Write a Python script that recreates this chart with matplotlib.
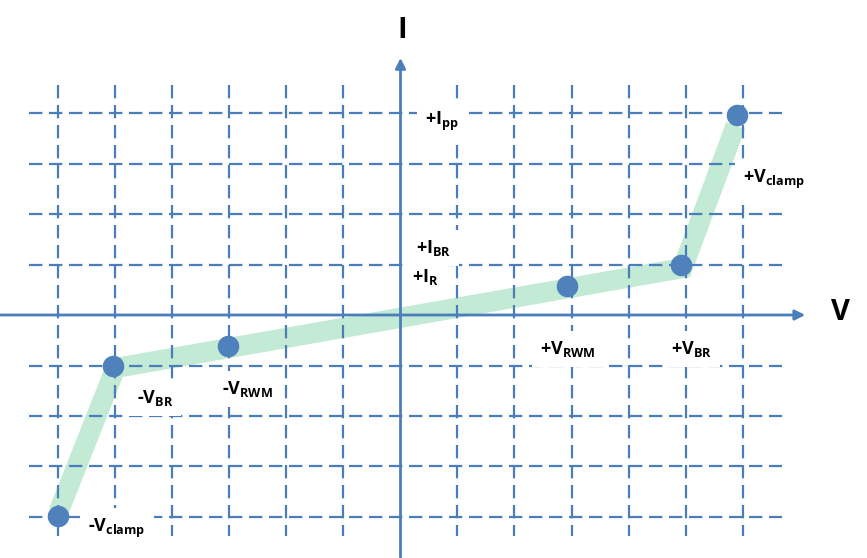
import matplotlib.pyplot as plt

plt.rcParams['font.family'] = ['Open Sans', 'DejaVu Sans']
plt.rcParams['mathtext.fontset'] = 'custom'
plt.rcParams['mathtext.rm'] = 'Open Sans'
plt.rcParams['mathtext.bf'] = 'Open Sans:bold'

# grid positions (in grid units)
grid_v = [-6, -5, -4, -3, -2, -1, 1, 2, 3, 4, 5, 6]
grid_i = [-4, -3, -2, -1, 1, 2, 3, 4]

# I-V curve (thick green band)
curve_v = [-6.0, -5.0, 4.95, 5.88]
curve_i = [-3.9, -1.05, 0.93, 3.75]

# marked points
point_v = [-6.0, -5.04, -3.03, 2.92, 4.92, 5.9]
point_i = [-3.98, -1.01, -0.61, 0.57, 0.99, 3.96]

# annotations
label_text = [r'+I$_\mathbf{pp}$', r'+V$_\mathbf{clamp}$', r'+I$_\mathbf{BR}$', r'+I$_\mathbf{R}$',
              r'+V$_\mathbf{RWM}$', r'+V$_\mathbf{BR}$', r'-V$_\mathbf{BR}$', r'-V$_\mathbf{RWM}$',
              r'-V$_\mathbf{clamp}$']
label_v = [0.72, 6.55, 0.58, 0.44, 2.94, 5.11, -4.31, -2.69, -4.97]
label_i = [3.84, 2.69, 1.33, 0.75, -0.67, -0.67, -1.64, -1.47, -4.22]

blue = '#4a7ebb'
green = '#c3ead4'
dot = '#4f81bd'

fig = plt.figure(figsize=(8.67, 5.58), dpi=100)
ax = fig.add_axes([0, 0, 1, 1])
ax.set_xlim(-7.026, 8.184)
ax.set_ylim(-4.812, 6.238)
ax.axis('off')

# green band
ax.plot(curve_v, curve_i, color=green, lw=14.5, solid_capstyle='butt',
        solid_joinstyle='miter', zorder=1)

# dashed grid
for x in grid_v:
    ax.plot([x, x], [4.55, -4.38], color=blue, lw=1.6, dashes=(6, 3), zorder=2)
for y in grid_i:
    ax.plot([-6.52, 6.69], [y, y], color=blue, lw=1.6, dashes=(6, 3), zorder=2)

# axes with arrows
ax.annotate('', xy=(7.1, 0), xytext=(-7.03, 0),
            arrowprops=dict(arrowstyle='-|>,head_length=0.6,head_width=0.3', color=blue,
                            lw=2, shrinkA=0, shrinkB=0), zorder=6)
ax.annotate('', xy=(0, 5.09), xytext=(0, -4.8),
            arrowprops=dict(arrowstyle='-|>,head_length=0.6,head_width=0.3', color=blue,
                            lw=2, shrinkA=0, shrinkB=0), zorder=6)

ax.text(0.03, 5.64, 'I', fontsize=21, fontweight='bold', ha='center', va='center')
ax.text(7.71, 0.04, 'V', fontsize=21, fontweight='bold', ha='center', va='center')

# points
ax.plot(point_v, point_i, 'o', color=dot, ms=14.5, zorder=7)

for t, x, y in zip(label_text, label_v, label_i):
    ax.text(x, y, t, fontsize=13, fontweight='bold', ha='center', va='center', zorder=5,
            bbox=dict(boxstyle='square,pad=0.45', facecolor='white', edgecolor='none'))

fig.savefig('out.png', dpi=100)
